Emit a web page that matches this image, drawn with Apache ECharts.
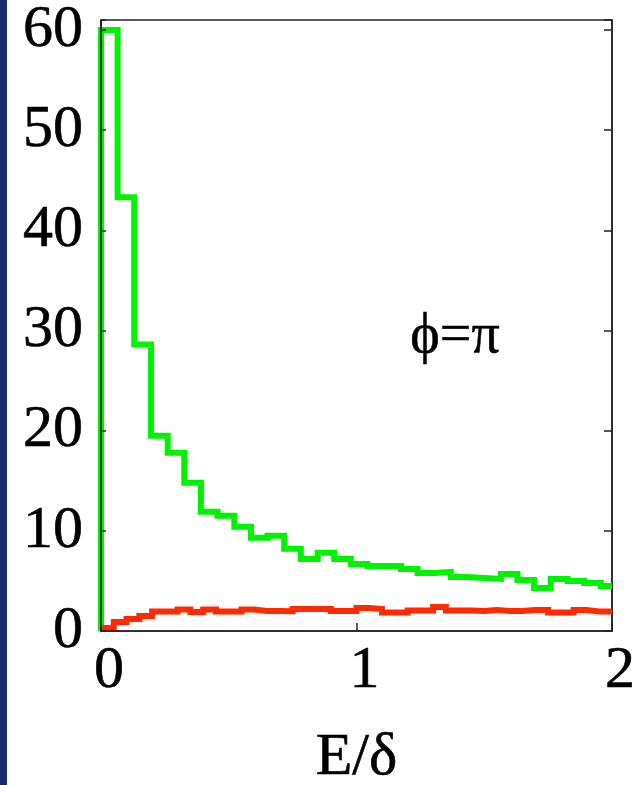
<!DOCTYPE html>
<html>
<head>
<meta charset="utf-8">
<script src="https://cdn.jsdelivr.net/npm/echarts@6/dist/echarts.min.js"></script>
<style>
html,body{margin:0;padding:0;background:#fff;}
#c{width:639px;height:785px;}
</style>
</head>
<body>
<div id="c"></div>
<script>
// Green histogram: bin left edges (E/δ) and heights
var greenEdges = [0, 0.065, 0.13, 0.196, 0.261, 0.326, 0.391, 0.456, 0.522, 0.587, 0.652, 0.717, 0.782, 0.848, 0.913, 0.978, 1.043, 1.108, 1.174, 1.239, 1.304, 1.369, 1.434, 1.5, 1.565, 1.63, 1.695, 1.76, 1.826, 1.891, 1.956];
var greenValues = [60, 43.3, 28.6, 19.5, 17.8, 14.8, 11.9, 11.5, 10.4, 9.3, 9.5, 8.2, 7.2, 7.8, 7.2, 6.7, 6.5, 6.5, 6.2, 5.8, 5.9, 5.4, 5.3, 5.2, 5.7, 5.1, 4.3, 5.2, 5.0, 4.8, 4.5];
// Red histogram: bin left edges and heights
var redEdges = [0, 0.05, 0.1, 0.15, 0.2, 0.25, 0.3, 0.35, 0.4, 0.45, 0.5, 0.55, 0.6, 0.65, 0.7, 0.75, 0.8, 0.85, 0.9, 0.95, 1.0, 1.05, 1.1, 1.15, 1.2, 1.25, 1.3, 1.35, 1.4, 1.45, 1.5, 1.55, 1.6, 1.65, 1.7, 1.75, 1.8, 1.85, 1.9, 1.95];
var redValues = [0.3, 0.9, 1.2, 1.5, 1.95, 1.95, 2.15, 1.9, 2.15, 1.95, 1.95, 2.15, 2.0, 2.0, 1.97, 2.2, 2.2, 2.2, 2.0, 2.0, 2.3, 2.2, 1.85, 1.85, 2.05, 2.05, 2.4, 2.05, 2.05, 2.0, 2.1, 2.0, 2.0, 2.1, 2.1, 1.85, 1.85, 2.1, 1.95, 1.95];
var xEnd = 2;
var xTicks = [0, 1, 2];
var yTicks = [0, 10, 20, 30, 40, 50, 60];
var annotation = 'ϕ=π';
var xName = 'E/δ';

function stepData(edges, vals, startZero) {
  var d = [];
  if (startZero) d.push([edges[0], 0]);
  for (var i = 0; i < edges.length; i++) d.push([edges[i], vals[i]]);
  d.push([xEnd, vals[vals.length - 1]]);
  return d;
}

var FONT = 'Liberation Serif';
var SIZE = 60;
var txt = {fontFamily: FONT, fontSize: SIZE, color: '#000', textBorderColor: '#000', textBorderWidth: 0.6};
var chart = echarts.init(document.getElementById('c'), null, {renderer: 'canvas'});
chart.setOption({
  animation: false,
  backgroundColor: '#ffffff',
  grid: {left: 101, right: 27, top: 20, bottom: 154, containLabel: false, outerBoundsMode: 'none',
         show: true, borderColor: '#222', borderWidth: 1.5, backgroundColor: 'transparent'},
  xAxis: {
    type: 'value', min: 0, max: 2, interval: 1,
    name: xName, nameLocation: 'middle', nameGap: 97,
    nameTextStyle: txt,
    axisLine: {show: true, lineStyle: {color: '#222', width: 1.5}},
    axisTick: {show: true, inside: true, length: 8, lineStyle: {color: '#222', width: 1.5}},
    axisLabel: Object.assign({margin: 10, padding: [0, 0, 0, 16],
      formatter: function (v) { return xTicks.indexOf(v) >= 0 ? String(v) : ''; }}, txt),
    splitLine: {show: false},
    z: 5
  },
  yAxis: [{
    type: 'value', min: 0, max: 61, interval: 10,
    axisLine: {show: true, lineStyle: {color: '#111', width: 1.5}},
    axisTick: {show: true, inside: true, length: 5, lineStyle: {color: '#222', width: 1.5}},
    axisLabel: Object.assign({margin: 18,
      formatter: function (v) { return yTicks.indexOf(v) >= 0 ? String(v) : ''; }}, txt),
    splitLine: {show: false},
    z: 5
  }, {
    type: 'value', min: 0, max: 61, interval: 10, position: 'right',
    axisLine: {show: true, lineStyle: {color: '#222', width: 1.5}},
    axisTick: {show: true, inside: true, length: 8, lineStyle: {color: '#222', width: 1.5}},
    axisLabel: {show: false},
    splitLine: {show: false}
  }],
  graphic: [
    {type: 'rect', shape: {x: 0, y: 0, width: 7, height: 785}, style: {fill: '#1b2a6b'}, z: 100},
    {type: 'text', x: 455, y: 337, z: 100,
     style: {text: annotation, fontFamily: FONT, fontSize: 56, fill: '#000', stroke: '#000', lineWidth: 0.5, align: 'center', verticalAlign: 'middle'}}
  ],
  series: [{
    type: 'line', step: 'end', showSymbol: false, clip: false,
    data: stepData(greenEdges, greenValues, true),
    lineStyle: {color: '#00f200', width: 6, join: 'miter'},
    z: 2
  }, {
    type: 'line', step: 'end', showSymbol: false, clip: false,
    data: stepData(redEdges, redValues, false),
    lineStyle: {color: '#ff2a00', width: 6, join: 'miter'},
    z: 3
  }]
});
</script>
</body>
</html>
